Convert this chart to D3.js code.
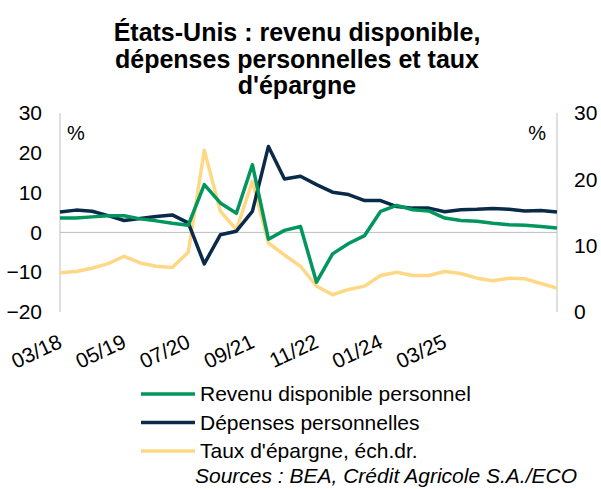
<!DOCTYPE html>
<html>
<head>
<meta charset="utf-8">
<script src="https://cdn.jsdelivr.net/npm/d3@7"></script>
<style>
  body { margin: 0; background: #fff; }
  svg { display: block; font-family: Arial, "Liberation Sans", sans-serif; }
</style>
</head>
<body>
<svg id="chart" width="601" height="489"></svg>
<script>
// y/y % change, quarterly points
const revenu = [3.6, 3.6, 3.9, 4.2, 4.2, 3.4, 2.9, 2.3, 1.8,
  12.0, 7.4, 4.8, 17.0, -1.7, 0.5, 1.5, -12.5,
  -5.4, -2.8, -0.8, 5.3, 6.8, 5.7, 5.4, 3.6,
  3.0, 2.8, 2.3, 1.9, 1.8, 1.5, 1.1];
const depenses = [5.1, 5.6, 5.3, 4.2, 3.0, 3.5, 4.0, 4.4, 2.4,
  -7.9, -0.6, 0.3, 5.3, 21.6, 13.4, 14.1, 12.0,
  10.1, 9.5, 8.0, 8.0, 6.5, 6.1, 6.1, 5.2,
  5.7, 5.8, 6.0, 5.8, 5.4, 5.5, 5.1];
// savings rate, right axis
const epargne = [5.9, 6.1, 6.6, 7.3, 8.4, 7.4, 6.9, 6.7, 9.0,
  24.4, 15.2, 12.4, 19.7, 10.4, 8.6, 6.9, 3.9,
  2.6, 3.4, 3.9, 5.5, 6.0, 5.5, 5.5, 6.1,
  5.8, 5.1, 4.7, 5.1, 5.0, 4.3, 3.6];
const xLabels = ["03/18", "05/19", "07/20", "09/21", "11/22", "01/24", "03/25"];
const labelStep = 4;
const leftTicks = [-20, -10, 0, 10, 20, 30];
const rightTicks = [0, 10, 20, 30];

const series = [
  { name: "Revenu disponible personnel", values: revenu, axis: "left", color: "#00965e" },
  { name: "Dépenses personnelles", values: depenses, axis: "left", color: "#0a2a4a" },
  { name: "Taux d'épargne, éch.dr.", values: epargne, axis: "right", color: "#ffd885" },
];

const svg = d3.select("#chart");
const plot = { left: 60, right: 557, top: 113, bottom: 312 };

const x = d3.scaleLinear([0, revenu.length - 1], [plot.left, plot.right]);
const yL = d3.scaleLinear([-20, 30], [plot.bottom, plot.top]);
const yR = d3.scaleLinear([0, 30], [plot.bottom, plot.top]);

// title
const title = svg.append("text")
  .attr("text-anchor", "middle")
  .attr("font-weight", "bold")
  .attr("font-size", 25)
  .attr("fill", "#000");
["États-Unis : revenu disponible,", "dépenses personnelles et taux", "d'épargne"]
  .forEach((t, i) => title.append("tspan").attr("x", 297).attr("y", 41 + i * 26.5).text(t));

// axis lines
const grid = "#bfbfbf";
svg.append("line").attr("x1", plot.left).attr("x2", plot.left)
  .attr("y1", plot.top).attr("y2", plot.bottom).attr("stroke", grid);
svg.append("line").attr("x1", plot.right).attr("x2", plot.right)
  .attr("y1", plot.top).attr("y2", plot.bottom).attr("stroke", grid);
svg.append("line").attr("x1", plot.left).attr("x2", plot.right)
  .attr("y1", yL(0)).attr("y2", yL(0)).attr("stroke", grid);

// left axis
const axL = svg.append("g")
  .attr("transform", `translate(${plot.left},0)`)
  .call(d3.axisLeft(yL).tickValues(leftTicks).tickSize(0).tickPadding(18));
axL.select(".domain").remove();
axL.selectAll("text").attr("font-size", 21).attr("fill", "#000").attr("font-family", null);

// right axis
const axR = svg.append("g")
  .attr("transform", `translate(${plot.right},0)`)
  .call(d3.axisRight(yR).tickValues(rightTicks).tickSize(0).tickPadding(17));
axR.select(".domain").remove();
axR.selectAll("text").attr("font-size", 21).attr("fill", "#000").attr("font-family", null);

// x labels
svg.append("g").selectAll("text")
  .data(xLabels)
  .join("text")
  .attr("transform", (d, i) => `translate(${x(i * labelStep) - 3},333) rotate(-25)`)
  .attr("text-anchor", "end")
  .attr("dy", "0.72em")
  .attr("font-size", 21)
  .attr("fill", "#000")
  .text((d) => d);

// unit labels
svg.append("text").attr("x", 67).attr("y", 140).attr("font-size", 20).text("%");
svg.append("text").attr("x", 546).attr("y", 140).attr("text-anchor", "end").attr("font-size", 20).text("%");

// lines (savings first so it sits behind)
const draw = [series[2], series[1], series[0]];
draw.forEach((s) => {
  const y = s.axis === "left" ? yL : yR;
  svg.append("path")
    .datum(s.values)
    .attr("fill", "none")
    .attr("stroke", s.color)
    .attr("stroke-width", 3.5)
    .attr("stroke-linejoin", "round")
    .attr("d", d3.line((d, i) => x(i), (d) => y(d)));
});

// legend
const legend = svg.append("g").selectAll("g")
  .data(series)
  .join("g")
  .attr("transform", (d, i) => `translate(141,${394 + i * 28.5})`);
legend.append("line").attr("x1", 0).attr("x2", 54)
  .attr("stroke", (d) => d.color).attr("stroke-width", 3.5);
legend.append("text").attr("x", 59).attr("dy", "0.35em")
  .attr("font-size", 21).attr("fill", "#000").text((d) => d.name);

svg.append("text")
  .attr("x", 577).attr("y", 483)
  .attr("text-anchor", "end")
  .attr("font-style", "italic")
  .attr("font-size", 21)
  .attr("fill", "#000")
  .text("Sources : BEA, Crédit Agricole S.A./ECO");
</script>
</body>
</html>
